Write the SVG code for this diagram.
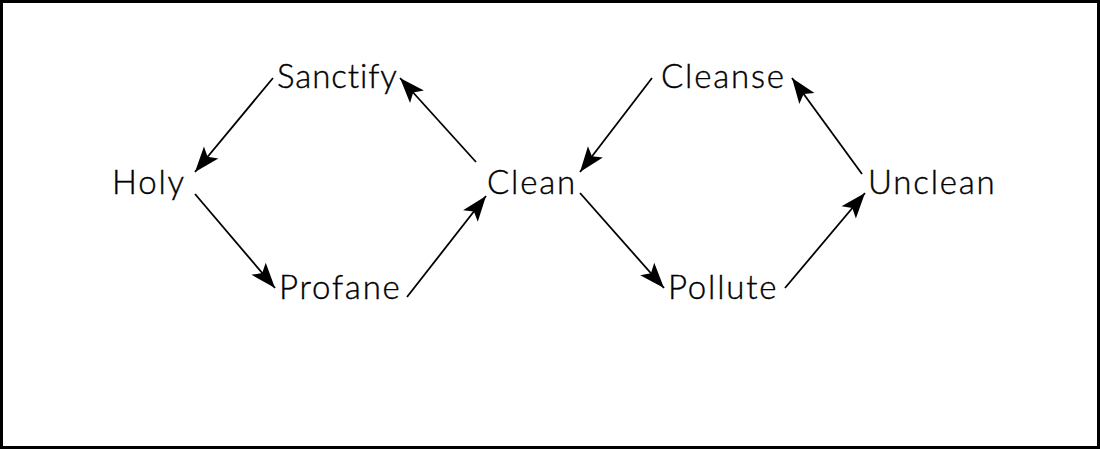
<svg xmlns="http://www.w3.org/2000/svg" width="1100" height="449" viewBox="0 0 1100 449">
<style>
text{font-family:Lato,"Noto Sans",sans-serif;font-size:33px;font-weight:300;letter-spacing:1.8px;font-variant-ligatures:none;fill:#000;stroke:#000;stroke-width:0.4}
.c{stroke:#000;stroke-width:1.8;fill:none;marker-end:url(#ah)}
</style>
<defs>
<marker id="ah" markerUnits="userSpaceOnUse" orient="auto" refX="0" refY="0" markerWidth="30" markerHeight="30" viewBox="-30 -12 32 24" overflow="visible">
<path d="M0,0 L-27,-10 L-21,0 L-27,10 Z" fill="#000"/>
</marker>
</defs>
<rect x="1.5" y="1.5" width="1097" height="446" fill="#fff" stroke="#000" stroke-width="3"/>
<g id="connectors">
<line class="c" x1="273" y1="78" x2="195" y2="172"/>
<line class="c" x1="195" y1="194" x2="275" y2="288"/>
<line class="c" x1="407" y1="297" x2="486" y2="196"/>
<line class="c" x1="476" y1="162" x2="400" y2="78"/>
<line class="c" x1="652" y1="78" x2="580" y2="172"/>
<line class="c" x1="580" y1="193" x2="664" y2="288"/>
<line class="c" x1="785" y1="288" x2="865" y2="193"/>
<line class="c" x1="862" y1="174" x2="792" y2="78"/>
</g>
<g id="sanctify"><text x="277" y="88" style="letter-spacing:0.9px">Sanctify</text></g>
<g id="holy"><text x="112" y="194">Holy</text></g>
<g id="profane"><text x="279" y="299">Profane</text></g>
<g id="clean"><text x="487" y="194">Clean</text></g>
<g id="cleanse"><text x="661" y="88">Cleanse</text></g>
<g id="pollute"><text x="668" y="299">Pollute</text></g>
<g id="unclean"><text x="868" y="194">Unclean</text></g>
</svg>
